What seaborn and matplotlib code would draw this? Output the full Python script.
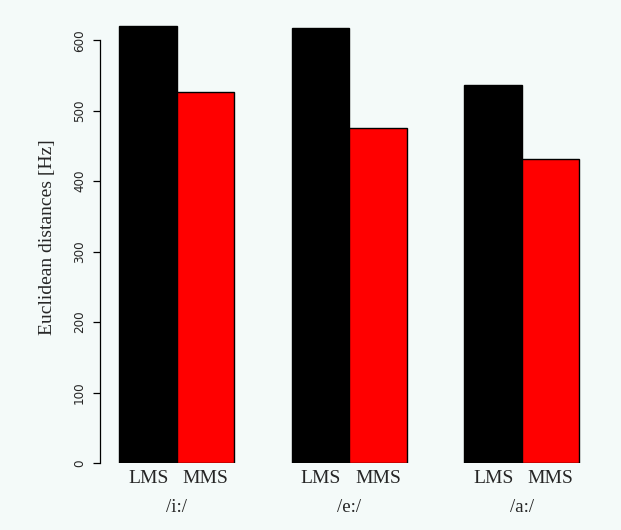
import matplotlib
matplotlib.use("Agg")
import matplotlib.pyplot as plt
import matplotlib.transforms as mtransforms
import seaborn as sns
import pandas as pd

vowels = ["/i:/", "/e:/", "/a:/"]
methods = ["LMS", "MMS"]
lms_values = [620, 618, 537]
mms_values = [526, 476, 432]
y_ticks = [0, 100, 200, 300, 400, 500, 600]

df = pd.DataFrame({
    "vowel": vowels * 2,
    "method": ["LMS"] * 3 + ["MMS"] * 3,
    "value": lms_values + mms_values,
})

sns.set_style("white")
bg = "#f4faf9"
fig = plt.figure(figsize=(6.21, 5.30), dpi=100, facecolor=bg)
ax = fig.add_axes([100/621, (530-463)/530, (597-100)/621, (463-12)/530])
ax.set_facecolor(bg)

sns.barplot(data=df, x="vowel", y="value", hue="method", order=vowels,
            hue_order=methods, palette={"LMS": "black", "MMS": "red"},
            width=2/3, edgecolor="black", linewidth=1, ax=ax, legend=False,
            errorbar=None, saturation=1)

ax.set_xlim(-0.446, 2.435)
ax.set_ylim(0, 640)

for s in ["top", "right", "bottom"]:
    ax.spines[s].set_visible(False)
ax.spines["left"].set_bounds(0, 600)
ax.spines["left"].set_color("black")
ax.spines["left"].set_linewidth(0.9)

ax.set_yticks(y_ticks)
ax.set_yticklabels([str(v) for v in y_ticks], rotation=90, va="center",
                   fontsize=9.5, family="DejaVu Sans", stretch="condensed")
ax.tick_params(axis="y", length=5, width=0.9, color="black", pad=5, left=True)

centers = sorted(p.get_x() + p.get_width() / 2 for p in ax.patches if p.get_width() > 0)
bar_labels = ["LMS" if c < round(c) else "MMS" for c in centers]
ax.set_xticks(centers)
ax.set_xticklabels(bar_labels, fontsize=14, family="Liberation Serif")
ax.tick_params(axis="x", length=0, pad=5, bottom=False)

trans = mtransforms.blended_transform_factory(ax.transData, fig.transFigure)
for i, v in enumerate(vowels):
    ax.text(i, (530-508)/530, v, transform=trans, ha="center", va="center",
            fontsize=13.5, family="Liberation Serif")

ax.set_xlabel("")
ax.set_ylabel("Euclidean distances [Hz]", fontsize=14, family="Liberation Serif",
              labelpad=12)

fig.savefig("out.png", dpi=100, facecolor=bg)
